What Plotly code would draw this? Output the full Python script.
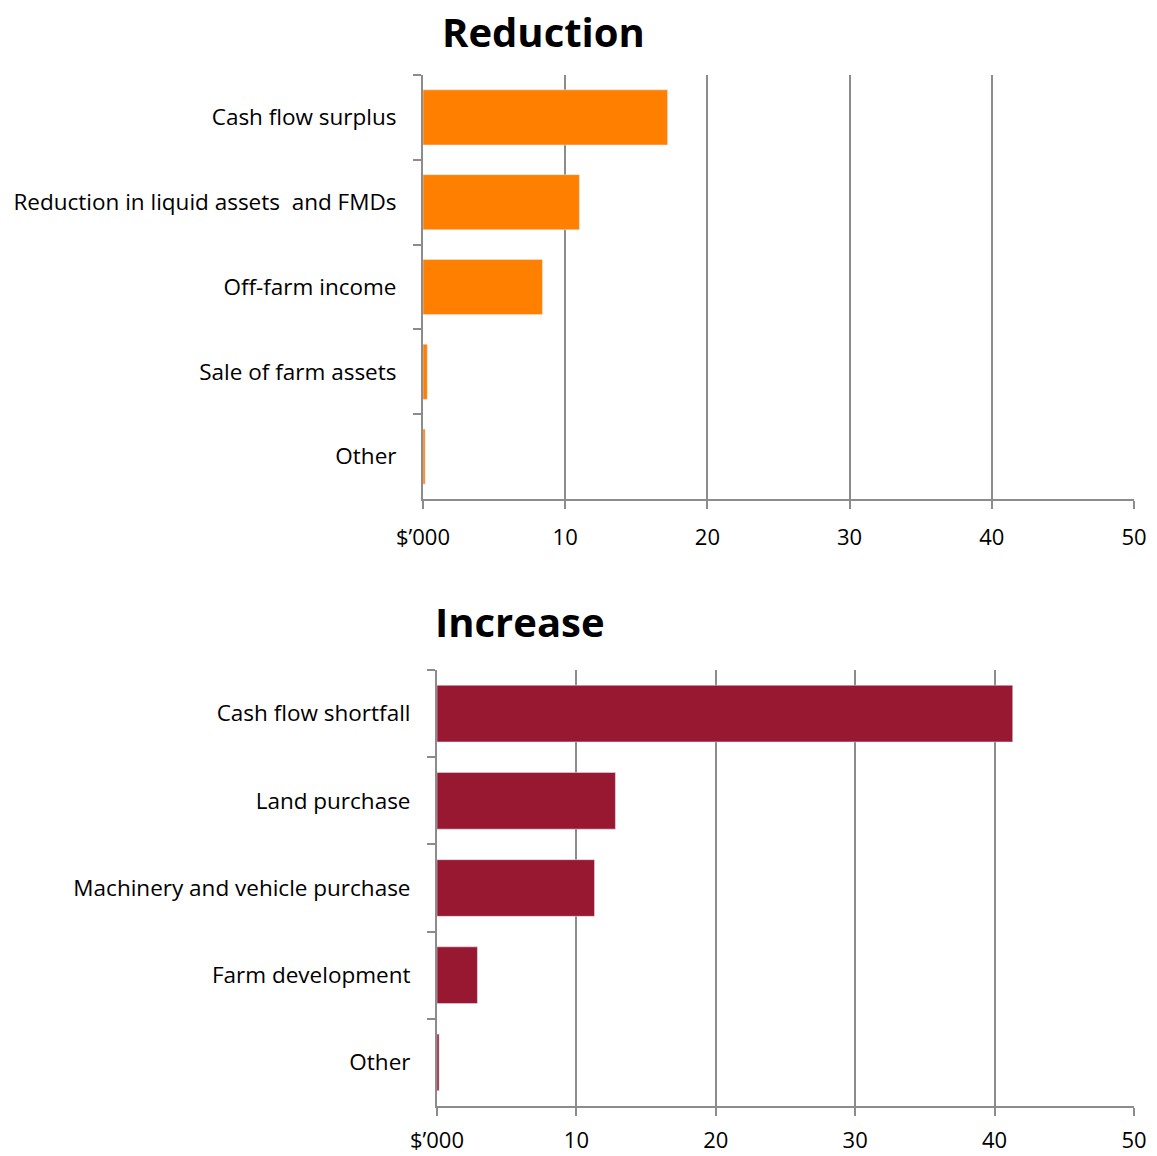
import plotly.graph_objects as go

W, H = 1157, 1156

red_cats = ["Cash flow surplus", "Reduction in liquid assets  and FMDs", "Off-farm income",
            "Sale of farm assets", "Other"]
red_vals = [17.2, 11.0, 8.4, 0.3, 0.15]

inc_cats = ["Cash flow shortfall", "Land purchase", "Machinery and vehicle purchase",
            "Farm development", "Other"]
inc_vals = [41.3, 12.8, 11.3, 2.9, 0.15]

x_ticks = [0, 10, 20, 30, 40, 50]
x_ticktext = ["$’000", "10", "20", "30", "40", "50"]

FONT = "'Open Sans', Lato, sans-serif"
GRAY = "#8c8c8c"

fig = go.Figure()
fig.add_trace(go.Bar(x=red_vals, y=red_cats, orientation="h", marker_color="#FF7F00",
                     xaxis="x", yaxis="y", showlegend=False))
fig.add_trace(go.Bar(x=inc_vals, y=inc_cats, orientation="h", marker_color="#971830",
                     xaxis="x2", yaxis="y2", showlegend=False))

def xax(domain, anchor, standoff):
    return dict(domain=domain, anchor=anchor, range=[0, 50], tickvals=x_ticks, ticktext=x_ticktext,
                showgrid=True, gridcolor=GRAY, gridwidth=2, zeroline=False, automargin=False,
                showline=True, linecolor=GRAY, linewidth=2, ticks="outside", ticklen=8,
                tickcolor=GRAY, tickwidth=2, ticklabelstandoff=standoff,
                tickfont=dict(family=FONT, size=22, color="black"),
                fixedrange=True)

def yax(domain, anchor):
    return dict(domain=domain, anchor=anchor, autorange="reversed", showgrid=False,
                automargin=False,
                showline=True, linecolor=GRAY, linewidth=2, ticks="outside", ticklen=8,
                tickcolor=GRAY, tickwidth=2, tickson="boundaries", ticklabelstandoff=20,
                tickfont=dict(family=FONT, size=22.5, color="black"), fixedrange=True)

fig.update_layout(
    width=W, height=H, margin=dict(l=0, r=0, t=0, b=0),
    paper_bgcolor="white", plot_bgcolor="white", bargap=0.35,
    xaxis=xax([423 / W, 1134 / W], "y", 10),
    yaxis=yax([1 - 499 / H, 1 - 75 / H], "x"),
    xaxis2=xax([437 / W, 1134 / W], "y2", 6),
    yaxis2=yax([1 - 1106 / H, 1 - 670 / H], "x2"),
    annotations=[
        dict(text="<b>Reduction</b>", x=543 / W, y=1 - 32 / H, xref="paper", yref="paper",
             showarrow=False, font=dict(family=FONT, size=40, color="black"),
             xanchor="center", yanchor="middle"),
        dict(text="<b>Increase</b>", x=520 / W, y=1 - 621 / H, xref="paper", yref="paper",
             showarrow=False, font=dict(family=FONT, size=40, color="black"),
             xanchor="center", yanchor="middle"),
    ],
)

fig.write_html("out.html")
